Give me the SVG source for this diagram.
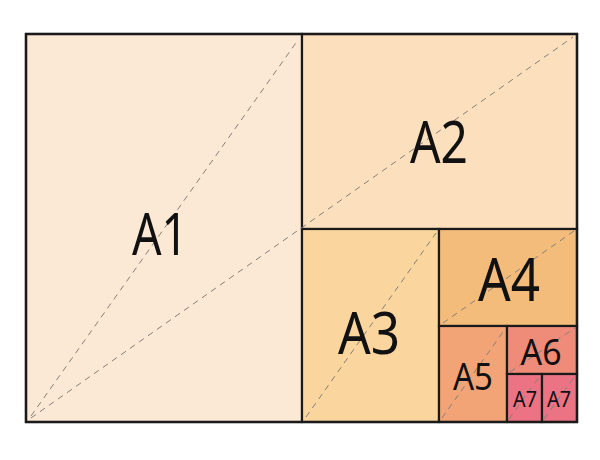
<svg xmlns="http://www.w3.org/2000/svg" width="600" height="460" viewBox="0 0 600 460">
<style>
.sheet{stroke:#1a1a1a;stroke-width:2.2}
.dash{stroke:#857f78;stroke-width:1;stroke-dasharray:6 5;fill:none}
.lbl{font-family:"Noto Sans","Open Sans",sans-serif;fill:#111;text-anchor:middle}
</style>
<rect width="600" height="460" fill="#ffffff"/>
<g id="A1"><rect class="sheet" x="26" y="34" width="276" height="388" fill="#fce9d5"/></g>
<g id="A2"><rect class="sheet" x="302" y="34" width="275" height="195" fill="#fcdfbd"/></g>
<g id="A3"><rect class="sheet" x="302" y="229" width="137" height="193" fill="#fad59e"/></g>
<g id="A4"><rect class="sheet" x="439" y="229" width="138" height="97" fill="#f4bc7b"/></g>
<g id="A5"><rect class="sheet" x="439" y="326" width="68" height="96" fill="#f2a476"/></g>
<g id="A6"><rect class="sheet" x="507" y="326" width="70" height="48" fill="#ee8c79"/></g>
<g id="A7a"><rect class="sheet" x="507" y="374" width="35" height="48" fill="#eb7384"/></g>
<g id="A7b"><rect class="sheet" x="542" y="374" width="35" height="48" fill="#eb7384"/></g>
<g id="diagonals">
<line class="dash" x1="31" y1="416" x2="298" y2="40"/>
<line class="dash" x1="31" y1="418" x2="573" y2="37"/>
<line class="dash" x1="306" y1="417" x2="436" y2="233"/>
<line class="dash" x1="443" y1="323" x2="574" y2="231"/>
<line class="dash" x1="442" y1="418" x2="505" y2="329"/>
<line class="dash" x1="510" y1="372" x2="575" y2="328"/>
<line class="dash" x1="509" y1="419" x2="540" y2="376"/>
<line class="dash" x1="544" y1="419" x2="575" y2="376"/>
</g>
<rect x="26" y="34" width="551" height="388" fill="none" stroke="#1a1a1a" stroke-width="2.4"/>
<g id="labels">
<text class="lbl" x="160" y="255" font-size="59" textLength="56" lengthAdjust="spacingAndGlyphs">A1</text>
<text class="lbl" x="439" y="163" font-size="59" textLength="58" lengthAdjust="spacingAndGlyphs">A2</text>
<text class="lbl" x="369" y="354" font-size="59" textLength="62" lengthAdjust="spacingAndGlyphs">A3</text>
<text class="lbl" x="509" y="301" font-size="60" textLength="62" lengthAdjust="spacingAndGlyphs">A4</text>
<text class="lbl" x="473" y="390" font-size="38" textLength="40" lengthAdjust="spacingAndGlyphs">A5</text>
<text class="lbl" x="541" y="365" font-size="36" textLength="41" lengthAdjust="spacingAndGlyphs">A6</text>
<text class="lbl" x="525" y="407" font-size="22" textLength="24" lengthAdjust="spacingAndGlyphs">A7</text>
<text class="lbl" x="559" y="407" font-size="22" textLength="24" lengthAdjust="spacingAndGlyphs">A7</text>
</g>
</svg>
